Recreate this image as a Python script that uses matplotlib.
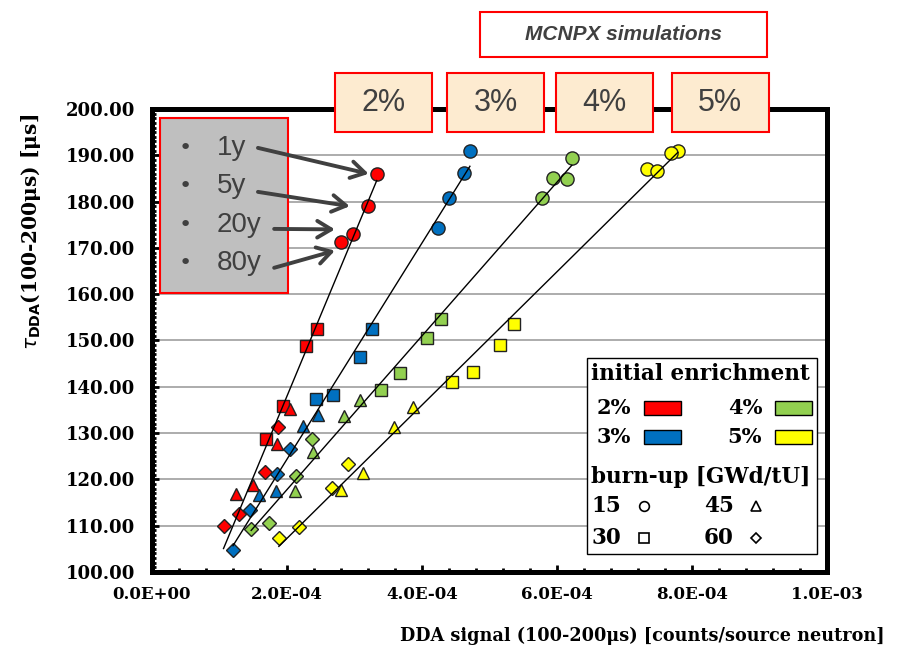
import numpy as np
import matplotlib.pyplot as plt
from matplotlib.patches import Rectangle
from matplotlib.ticker import MultipleLocator, FuncFormatter

# enrichment groups and burn-up groups
enrich_labels = ['2%', '3%', '4%', '5%']
enrich_colors = ['#FF0000', '#0070C0', '#92D050', '#FFFF00']
burnup_labels = ['15', '30', '45', '60']
burnup_markers = ['o', 's', '^', 'D']
burnup_sizes = [9.5, 8.5, 9, 7]
age_labels = ['1y', '5y', '20y', '80y']

# DDA signal (x1e-4 counts/source neutron), rows = burn-up 15/30/45/60,
# columns = cooling time 1y/5y/20y/80y
sig_2 = [[3.33, 3.20, 2.98, 2.80], [2.44, 2.28, 1.94, 1.69],
         [2.05, 1.85, 1.49, 1.24], [1.86, 1.68, 1.29, 1.06]]
tau_2 = [[186.0, 179.1, 173.0, 171.3], [152.4, 148.8, 135.9, 128.7],
         [135.1, 127.6, 118.8, 116.8], [131.4, 121.7, 112.5, 109.9]]

sig_3 = [[4.71, 4.62, 4.40, 4.24], [3.26, 3.08, 2.68, 2.43],
         [2.46, 2.24, 1.84, 1.59], [2.04, 1.85, 1.45, 1.20]]
tau_3 = [[191.0, 186.1, 180.7, 174.2], [152.4, 146.5, 138.2, 137.4],
         [133.9, 131.5, 117.5, 116.6], [126.6, 121.1, 113.4, 104.8]]

sig_4 = [[6.22, 5.94, 6.15, 5.78], [4.28, 4.08, 3.67, 3.39],
         [3.08, 2.84, 2.39, 2.12], [2.37, 2.14, 1.74, 1.47]]
tau_4 = [[189.4, 185.0, 184.9, 180.7], [154.6, 150.5, 142.9, 139.2],
         [137.1, 133.7, 125.9, 117.5], [128.7, 120.7, 110.6, 109.2]]

sig_5 = [[7.79, 7.69, 7.34, 7.48], [5.37, 5.16, 4.75, 4.44],
         [3.86, 3.59, 3.12, 2.80], [2.91, 2.66, 2.18, 1.88]]
tau_5 = [[191.0, 190.4, 187.0, 186.6], [153.6, 149.1, 143.3, 141.0],
         [135.7, 131.3, 121.3, 117.7], [123.3, 118.2, 109.8, 107.4]]

signals = [sig_2, sig_3, sig_4, sig_5]
taus = [tau_2, tau_3, tau_4, tau_5]

# where the cooling-time arrows point (x1e-4, us)
age_arrow_x = [3.21, 2.93, 2.71, 2.71]
age_arrow_y = [186.0, 179.0, 174.0, 169.4]

fig = plt.figure(figsize=(9.03, 6.57), dpi=100)
ax = fig.add_axes([0.1683, 0.1294, 0.7475, 0.7047])

# markers
for sig, tau, col in zip(signals, taus, enrich_colors):
    for k in range(4):
        ax.plot(np.array(sig[k]) * 1e-4, tau[k], ls='none',
                marker=burnup_markers[k], ms=burnup_sizes[k],
                mfc=col, mec='#222222', mew=1.0, zorder=3)

# linear trend line per enrichment
for sig, tau in zip(signals, taus):
    xs = np.array(sig).ravel() * 1e-4
    ys = np.array(tau).ravel()
    a, b = np.polyfit(xs, ys, 1)
    xl = np.array([xs.min(), xs.max()])
    ax.plot(xl, a * xl + b, color='black', lw=1.0, zorder=4)

ax.set_xlim(0, 1e-3)
ax.set_ylim(100, 200)
ax.xaxis.set_major_locator(MultipleLocator(2e-4))
ax.xaxis.set_minor_locator(MultipleLocator(4e-5))
ax.yaxis.set_major_locator(MultipleLocator(10))
ax.yaxis.set_minor_locator(MultipleLocator(1))
ax.xaxis.set_major_formatter(FuncFormatter(lambda v, p: '{:.1E}'.format(v)))
ax.yaxis.set_major_formatter(FuncFormatter(lambda v, p: '{:.2f}'.format(v)))
ax.tick_params(which='both', direction='in', width=2, color='black')
ax.tick_params(which='major', length=5)
ax.tick_params(which='minor', length=3)
ax.tick_params(axis='y', pad=12)
ax.tick_params(axis='x', pad=10)
for lab in ax.get_xticklabels():
    lab.set_fontfamily('DejaVu Serif')
    lab.set_fontweight('bold')
    lab.set_fontsize(12)
for lab in ax.get_yticklabels():
    lab.set_fontfamily('DejaVu Serif')
    lab.set_fontweight('bold')
    lab.set_fontsize(13)
for s in ax.spines.values():
    s.set_linewidth(3.6)
ax.yaxis.grid(True, color='#A6A6A6', lw=1.3)
ax.set_axisbelow(True)

ax.set_xlabel('DDA signal (100-200μs) [counts/source neutron]',
              fontfamily='DejaVu Serif', fontweight='bold', fontsize=12.7)
ax.xaxis.set_label_coords(0.726, -0.118)
ax.set_ylabel('$\\tau_{\\mathbf{DDA}}$(100-200μs) [μs]',
              fontfamily='DejaVu Serif', fontweight='bold', fontsize=14.5)
ax.yaxis.set_label_coords(-0.162, 0.734)

# grey box with cooling times
ax.add_patch(Rectangle((0.012, 0.603), 0.189, 0.378, transform=ax.transAxes,
                       fc='#BFBFBF', ec='red', lw=1.5, zorder=5))
age_y = [0.916, 0.834, 0.749, 0.667]
tail_x = [0.157, 0.157, 0.181, 0.181]
tail_y = [0.916, 0.821, 0.741, 0.657]
for i, lab in enumerate(age_labels):
    ax.text(0.049, age_y[i], '•', transform=ax.transAxes, fontsize=16,
            color='#404040', ha='center', va='center', zorder=6)
    ax.text(0.096, age_y[i], lab, transform=ax.transAxes, fontsize=20,
            fontfamily='Liberation Sans', color='#404040',
            ha='left', va='center', zorder=6)
    ax.annotate('', xy=(age_arrow_x[i] * 1e-4, age_arrow_y[i]),
                xytext=(tail_x[i], tail_y[i]), textcoords='axes fraction',
                arrowprops=dict(arrowstyle='->,head_length=1.0,head_width=0.6',
                                lw=2.8, color='#404040', shrinkA=0, shrinkB=0),
                zorder=6)

# legend box
ax.add_patch(Rectangle((0.644, 0.039), 0.341, 0.423, transform=ax.transAxes,
                       fc='white', ec='black', lw=1.0, zorder=7))
lf = dict(transform=ax.transAxes, fontfamily='DejaVu Serif', fontweight='bold',
          va='center', ha='left', zorder=8)
ax.text(0.651, 0.428, 'initial enrichment', fontsize=15.5, **lf)
ent_x = [0.659, 0.659, 0.853, 0.853]
ent_y = [0.354, 0.292, 0.354, 0.292]
patch_x = [0.729, 0.729, 0.923, 0.923]
for i in range(4):
    ax.text(ent_x[i], ent_y[i], enrich_labels[i], fontsize=15, **lf)
    ax.add_patch(Rectangle((patch_x[i], ent_y[i] - 0.015), 0.055, 0.03,
                           transform=ax.transAxes, fc=enrich_colors[i],
                           ec='black', lw=1.0, zorder=8))
ax.text(0.651, 0.205, 'burn-up [GWd/tU]', fontsize=15.5, **lf)
bu_x = [0.651, 0.651, 0.818, 0.818]
bu_y = [0.143, 0.073, 0.143, 0.073]
sym_x = [0.729, 0.729, 0.895, 0.895]
leg_ms = [7, 6.5, 7, 5.5]
for i in range(4):
    ax.text(bu_x[i], bu_y[i], burnup_labels[i], fontsize=15.5, **lf)
    ax.plot([sym_x[i]], [bu_y[i]], transform=ax.transAxes, ls='none',
            marker=burnup_markers[i], ms=leg_ms[i], mfc='white', mec='black',
            mew=1.2, clip_on=False, zorder=9)

# boxes above the plot
box_x = [0.371, 0.495, 0.616, 0.744]
for i, lab in enumerate(enrich_labels):
    fig.add_artist(Rectangle((box_x[i], 0.799), 0.1074, 0.0898,
                             transform=fig.transFigure, fc='#FDEBD0',
                             ec='red', lw=1.5))
    fig.text(box_x[i] + 0.0537, 0.843, lab, fontsize=22,
             fontfamily='Liberation Sans', color='#404040',
             ha='center', va='center')
fig.add_artist(Rectangle((0.5316, 0.913), 0.318, 0.0685,
                         transform=fig.transFigure, fc='white', ec='red', lw=1.5))
fig.text(0.5316 + 0.159, 0.947, 'MCNPX simulations', fontsize=15,
         fontfamily='Liberation Sans', fontweight='bold', fontstyle='italic',
         color='#404040', ha='center', va='center')

fig.savefig('out.png', dpi=100)
